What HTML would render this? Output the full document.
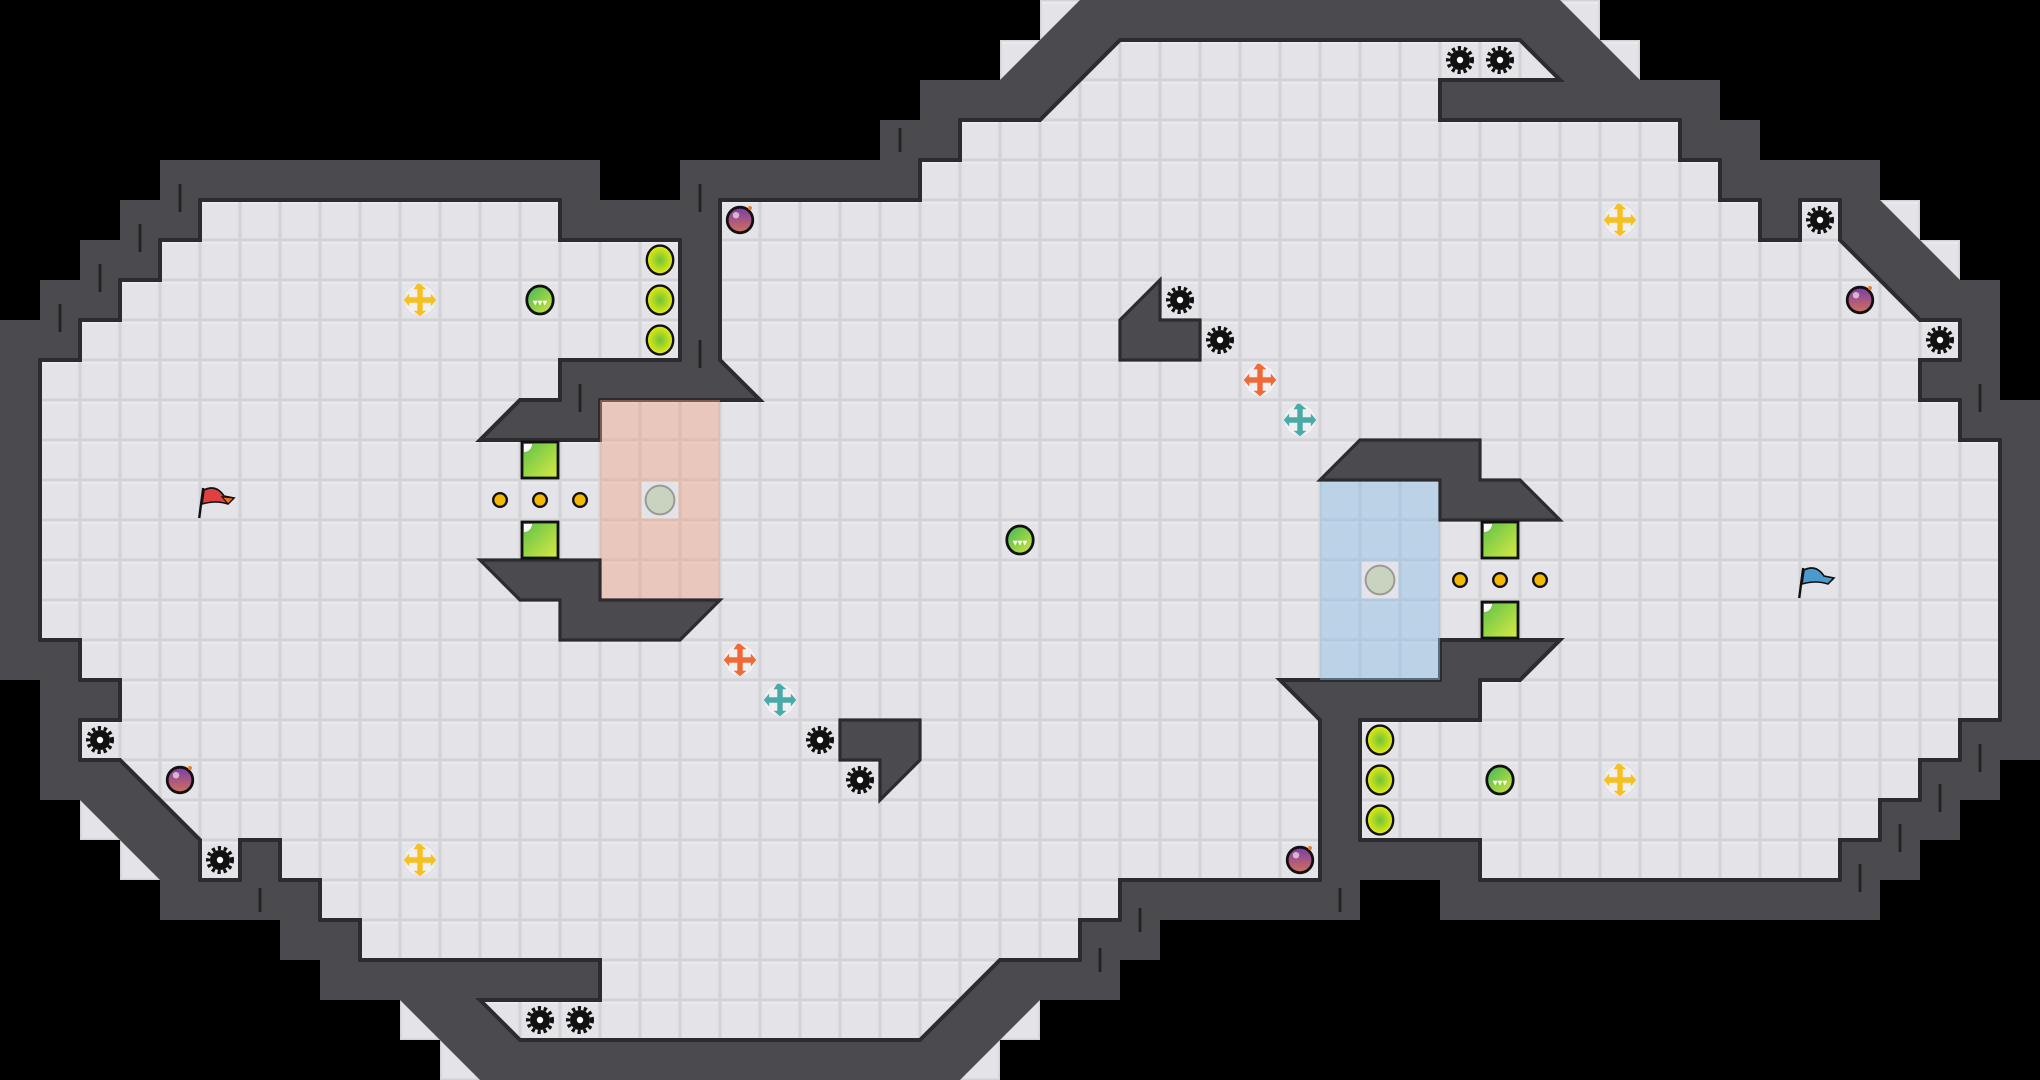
<!DOCTYPE html>
<html><head><meta charset="utf-8"><style>
html,body{margin:0;padding:0;background:#000;overflow:hidden}
svg{display:block}
</style></head><body>
<svg width="2040" height="1080" viewBox="0 0 51 27" xmlns="http://www.w3.org/2000/svg">
<defs>
<pattern id="fl" patternUnits="userSpaceOnUse" width="1" height="1">
<rect width="1" height="1" fill="#d3d3d8"/>
<rect x="0.04" y="0.04" width="0.92" height="0.92" fill="#e4e4e8"/>
<rect x="0.04" y="0.04" width="0.92" height="0.05" fill="#ececef"/>
</pattern>
<radialGradient id="yg" cx="0.5" cy="0.5" r="0.5"><stop offset="0" stop-color="#6fc23a"/><stop offset="1" stop-color="#e8ec10"/></radialGradient>
<linearGradient id="gg" x1="0" y1="0" x2="1" y2="1"><stop offset="0" stop-color="#3fb65a"/><stop offset="1" stop-color="#d6e83a"/></linearGradient>
<linearGradient id="pg" x1="0" y1="0" x2="0" y2="1"><stop offset="0" stop-color="#7e3ea8"/><stop offset="1" stop-color="#d0705a"/></linearGradient>
<linearGradient id="bg" x1="0" y1="0" x2="1" y2="1"><stop offset="0" stop-color="#5cc04a"/><stop offset="1" stop-color="#d8ea40"/></linearGradient>
<g id="gear"><circle r="0.25" fill="#111"/><circle r="0.3" fill="none" stroke="#111" stroke-width="0.1" stroke-dasharray="0.08 0.07"/><circle r="0.08" fill="#fff"/></g>
<g id="bomb"><circle r="0.32" fill="url(#pg)" stroke="#111" stroke-width="0.07"/><circle cx="-0.1" cy="-0.12" r="0.08" fill="#fff" opacity="0.6"/><circle cx="0.25" cy="-0.3" r="0.05" fill="#f08020"/></g>
<g id="ydisc"><ellipse rx="0.33" ry="0.36" fill="url(#yg)" stroke="#111" stroke-width="0.06"/></g>
<g id="gdisc"><ellipse rx="0.33" ry="0.35" fill="url(#gg)" stroke="#111" stroke-width="0.07"/><path d="M-0.18 0.02 L0.18 0.02 L0.12 0.14 L0.06 0.02 L0 0.14 L-0.06 0.02 L-0.12 0.14 Z" fill="#fff"/></g>
<g id="block"><rect x="-0.45" y="-0.45" width="0.9" height="0.9" fill="url(#bg)" stroke="#111" stroke-width="0.07"/><path d="M-0.4 -0.4 h0.2 a0.2 0.2 0 0 1 -0.2 0.2z" fill="#fff"/></g>
<g id="coin"><circle r="0.17" fill="#f5b800" stroke="#111" stroke-width="0.06"/></g>
<path id="cr" d="M-0.05 -0.3 L-0.12 -0.2 L-0.05 -0.2 L-0.05 -0.05 L-0.2 -0.05 L-0.2 -0.12 L-0.3 0 L-0.2 0.12 L-0.2 0.05 L-0.05 0.05 L-0.05 0.2 L-0.12 0.2 L0 0.3 L0.12 0.2 L0.05 0.2 L0.05 0.05 L0.2 0.05 L0.2 0.12 L0.3 0 L0.2 -0.12 L0.2 -0.05 L0.05 -0.05 L0.05 -0.2 L0.12 -0.2 L0 -0.3 Z" transform="scale(1.35)"/>
<g id="cbg"><circle r="0.38" fill="#f2f2f4" opacity="0.8"/></g>
</defs>
<rect width="51" height="27" fill="#000"/>
<g fill="url(#fl)">
<rect x="25" y="1" width="1" height="1"/><rect x="26" y="0" width="1" height="1"/>
<rect x="39" y="0" width="1" height="1"/><rect x="40" y="1" width="1" height="1"/>
<rect x="47" y="5" width="1" height="1"/><rect x="48" y="6" width="1" height="1"/>
<rect x="2" y="20" width="1" height="1"/><rect x="3" y="21" width="1" height="1"/>
<rect x="10" y="25" width="1" height="1"/><rect x="11" y="26" width="1" height="1"/>
<rect x="25" y="25" width="1" height="1"/><rect x="24" y="26" width="1" height="1"/>
</g>
<polygon fill="#4a4a4f" points="0,8 1,8 1,7 2,7 2,6 3,6 3,5 4,5 4,4 15,4 15,5 17,5 17,4 22,4 22,3 23,3 23,2 25,2 27,0 39,0 41,2 43,2 43,3 44,3 44,4 47,4 47,5 49,7 50,7 50,10 51,10 51,19 50,19 50,20 49,20 49,21 48,21 48,22 47,22 47,23 36,23 36,22 34,22 34,23 29,23 29,24 28,24 28,25 26,25 24,27 12,27 10,25 8,25 8,24 7,24 7,23 4,23 4,22 2,20 1,20 1,17 0,17"/>
<polygon fill="url(#fl)" stroke="#2c2c30" stroke-width="0.1" stroke-linejoin="miter" points="1,9 2,9 2,8 3,8 3,7 4,7 4,6 5,6 5,5 14,5 14,6 17,6 17,9 14,9 14,10 13,10 12,11 15,11 15,10 19,10 18,9 18,5 23,5 23,4 24,4 24,3 26,3 28,1 38,1 39,2 36,2 36,3 42,3 42,4 43,4 43,5 44,5 44,6 45,6 45,5 46,5 46,6 48,8 49,8 49,9 48,9 48,10 49,10 49,11 50,11 50,18 49,18 49,19 48,19 48,20 47,20 47,21 46,21 46,22 37,22 37,21 34,21 34,18 37,18 37,17 38,17 39,16 36,16 36,17 32,17 33,18 33,22 28,22 28,23 27,23 27,24 25,24 23,26 13,26 12,25 15,25 15,24 9,24 9,23 8,23 8,22 7,22 7,21 6,21 6,22 5,22 5,21 3,19 2,19 2,18 3,18 3,17 2,17 2,16 1,16"/>
<rect x="15" y="10" width="3" height="5" fill="#f0a080" opacity="0.42"/>
<rect x="16.04" y="12.04" width="0.92" height="0.92" fill="#e4e4e8"/>
<rect x="33" y="12" width="3" height="5" fill="#8cbce6" opacity="0.45"/>
<rect x="34.04" y="14.04" width="0.92" height="0.92" fill="#e4e4e8"/>
<g fill="#4a4a4f" stroke="#2c2c30" stroke-width="0.08">
<polygon points="12,14 15,14 15,15 18,15 17,16 14,16 14,15 13,15"/>
<polygon points="34,11 37,11 37,12 38,12 39,13 36,13 36,12 33,12"/>
<polygon points="28,8 29,7 29,8 30,8 30,9 28,9"/>
<polygon points="21,18 23,18 23,19 22,20 22,19 21,19"/>
</g>
<g stroke="#222" stroke-width="0.07">
<line x1="4.5" y1="4.6" x2="4.5" y2="5.3"/><line x1="3.5" y1="5.6" x2="3.5" y2="6.3"/><line x1="2.5" y1="6.6" x2="2.5" y2="7.3"/><line x1="1.5" y1="7.6" x2="1.5" y2="8.3"/>
<line x1="17.5" y1="4.6" x2="17.5" y2="5.3"/><line x1="17.5" y1="8.5" x2="17.5" y2="9.2"/><line x1="14.5" y1="9.6" x2="14.5" y2="10.3"/>
<line x1="22.5" y1="3.2" x2="22.5" y2="3.8"/>
<line x1="6.5" y1="22.2" x2="6.5" y2="22.8"/><line x1="33.5" y1="22.2" x2="33.5" y2="22.8"/>
<line x1="28.5" y1="22.7" x2="28.5" y2="23.3"/><line x1="27.5" y1="23.7" x2="27.5" y2="24.3"/><line x1="46.5" y1="21.6" x2="46.5" y2="22.3"/>
<line x1="47.5" y1="20.6" x2="47.5" y2="21.3"/><line x1="48.5" y1="19.6" x2="48.5" y2="20.3"/><line x1="49.5" y1="18.6" x2="49.5" y2="19.3"/><line x1="49.5" y1="9.6" x2="49.5" y2="10.3"/>
</g>
<g>
<use href="#gear" x="36.5" y="1.5"/><use href="#gear" x="37.5" y="1.5"/><use href="#gear" x="45.5" y="5.5"/>
<use href="#gear" x="29.5" y="7.5"/><use href="#gear" x="30.5" y="8.5"/><use href="#gear" x="48.5" y="8.5"/>
<use href="#gear" x="2.5" y="18.5"/><use href="#gear" x="5.5" y="21.5"/><use href="#gear" x="20.5" y="18.5"/>
<use href="#gear" x="21.5" y="19.5"/><use href="#gear" x="13.5" y="25.5"/><use href="#gear" x="14.5" y="25.5"/>
<use href="#bomb" x="18.5" y="5.5"/><use href="#bomb" x="46.5" y="7.5"/><use href="#bomb" x="4.5" y="19.5"/><use href="#bomb" x="32.5" y="21.5"/>
<use href="#ydisc" x="16.5" y="6.5"/><use href="#ydisc" x="16.5" y="7.5"/><use href="#ydisc" x="16.5" y="8.5"/>
<use href="#ydisc" x="34.5" y="18.5"/><use href="#ydisc" x="34.5" y="19.5"/><use href="#ydisc" x="34.5" y="20.5"/>
<use href="#gdisc" x="13.5" y="7.5"/><use href="#gdisc" x="25.5" y="13.5"/><use href="#gdisc" x="37.5" y="19.5"/>
<use href="#block" x="13.5" y="11.5"/><use href="#block" x="13.5" y="13.5"/><use href="#block" x="37.5" y="13.5"/><use href="#block" x="37.5" y="15.5"/>
<use href="#coin" x="12.5" y="12.5"/><use href="#coin" x="13.5" y="12.5"/><use href="#coin" x="14.5" y="12.5"/>
<use href="#coin" x="36.5" y="14.5"/><use href="#coin" x="37.5" y="14.5"/><use href="#coin" x="38.5" y="14.5"/>
<circle cx="16.5" cy="12.5" r="0.36" fill="#c8d4c0" stroke="#9a9a9a" stroke-width="0.05"/>
<circle cx="34.5" cy="14.5" r="0.36" fill="#c8d4c0" stroke="#9a9a9a" stroke-width="0.05"/>
<use href="#cbg" x="10.5" y="7.5"/><use href="#cr" x="10.5" y="7.5" fill="#f5c020"/>
<use href="#cbg" x="10.5" y="21.5"/><use href="#cr" x="10.5" y="21.5" fill="#f5c020"/>
<use href="#cbg" x="40.5" y="5.5"/><use href="#cr" x="40.5" y="5.5" fill="#f5c020"/>
<use href="#cbg" x="40.5" y="19.5"/><use href="#cr" x="40.5" y="19.5" fill="#f5c020"/>
<use href="#cbg" x="18.5" y="16.5"/><use href="#cr" x="18.5" y="16.5" fill="#f06a38"/>
<use href="#cbg" x="31.5" y="9.5"/><use href="#cr" x="31.5" y="9.5" fill="#f06a38"/>
<use href="#cbg" x="19.5" y="17.5"/><use href="#cr" x="19.5" y="17.5" fill="#4aaaa8"/>
<use href="#cbg" x="32.5" y="10.5"/><use href="#cr" x="32.5" y="10.5" fill="#4aaaa8"/>
</g>
<g stroke="#111" stroke-width="0.06">
<line x1="5.08" y1="12.2" x2="4.98" y2="12.95"/>
<path d="M5.1 12.25 Q5.4 12.1 5.6 12.4 L5.85 12.45 L5.7 12.6 Q5.4 12.5 5.05 12.6 Z" fill="#e04040" stroke-width="0.04"/>
<path d="M5.55 12.42 L5.85 12.45 L5.7 12.6 Z" fill="#f07020" stroke-width="0.03"/>
<line x1="45.08" y1="14.2" x2="44.98" y2="14.95"/>
<path d="M45.1 14.25 Q45.4 14.1 45.6 14.4 L45.85 14.45 L45.7 14.6 Q45.4 14.5 45.05 14.6 Z" fill="#4a9ad0" stroke-width="0.04"/>
</g>
</svg>
</body></html>
